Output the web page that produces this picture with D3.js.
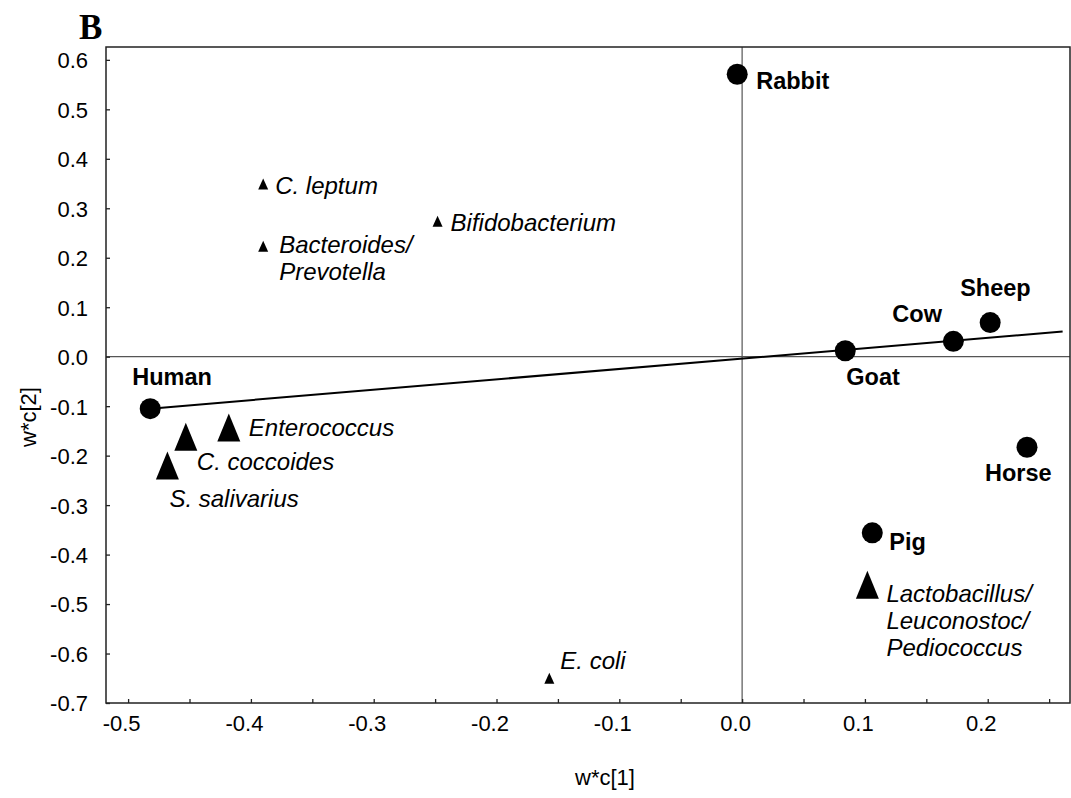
<!DOCTYPE html>
<html>
<head>
<meta charset="utf-8">
<script src="https://cdn.jsdelivr.net/npm/d3@7"></script>
<style>
  body { margin: 0; background: #fff; }
  svg { display: block; }
  text { font-family: "Liberation Sans", Arial, sans-serif; fill: #000; }
</style>
</head>
<body>
<svg width="1071" height="798"></svg>
<script>
/* -------------------------- Data -------------------------- */
// hosts (circles)
var hostNames = ['Rabbit', 'Human', 'Goat', 'Cow', 'Sheep', 'Horse', 'Pig'];
var hostX = [-0.004, -0.482, 0.084, 0.172, 0.202, 0.232, 0.106];
var hostY = [0.571, -0.105, 0.012, 0.031, 0.069, -0.183, -0.356];

// bacterial groups (triangles)
var groupNames = [
  ['Enterococcus'], ['C. coccoides'], ['S. salivarius'],
  ['Lactobacillus/', 'Leuconostoc/', 'Pediococcus'],
  ['C. leptum'], ['Bacteroides/', 'Prevotella'], ['Bifidobacterium'], ['E. coli']
];
var groupX = [-0.418, -0.453, -0.468, 0.102, -0.390, -0.390, -0.248, -0.157];
var groupY = [-0.143, -0.162, -0.220, -0.461, 0.349, 0.223, 0.274, -0.650];
var groupMajor = [true, true, true, true, false, false, false, false];

// fitted line
var lineX = [-0.482, 0.261];
var lineY = [-0.105, 0.051];

// ticks
var xTicks = [-0.5, -0.4, -0.3, -0.2, -0.1, 0.0, 0.1, 0.2];
var xMinor = [-0.45, -0.35, -0.25, -0.15, -0.05, 0.05, 0.15, 0.25];
var yTicks = [0.6, 0.5, 0.4, 0.3, 0.2, 0.1, 0.0, -0.1, -0.2, -0.3, -0.4, -0.5, -0.6, -0.7];

/* ------------------------- Layout ------------------------- */
var config = {
  left: 106, right: 1070, top: 47, bottom: 703,
  font: 22,       // ticks + axis titles
  boldFont: 23.5, // host labels
  italFont: 24    // group labels
};

// label offsets from marker centre (px)
var hostLabelOff = [[19, 15], [-18, -24], [1, 34], [-61, -19], [-30, -27], [-42, 34], [17, 17]];
var groupLabelOff = [[20, 9], [11, 33], [2, 41], [19, 17], [12, 10], [16, 7], [13, 10], [11, -9]];

// plain hyphen instead of unicode minus
var fmt = function (d) { return d3.format('.1f')(d).replace('\u2212', '-'); };

var svg = d3.select('svg');

var x = d3.scaleLinear()
  .domain([-0.518, 0.267])
  .range([config.left, config.right]);
var y = d3.scaleLinear()
  .domain([-0.7, 0.626])
  .range([config.bottom, config.top]);

// zero lines
svg.append('line')
  .attr('x1', x(0)).attr('x2', x(0))
  .attr('y1', config.top).attr('y2', config.bottom)
  .attr('stroke', '#555').attr('stroke-width', 1.2);
svg.append('line')
  .attr('x1', config.left).attr('x2', config.right)
  .attr('y1', y(0)).attr('y2', y(0))
  .attr('stroke', '#555').attr('stroke-width', 1.2);

// frame
svg.append('rect')
  .attr('x', config.left).attr('y', config.top)
  .attr('width', config.right - config.left)
  .attr('height', config.bottom - config.top)
  .attr('fill', 'none').attr('stroke', '#222').attr('stroke-width', 1.5);

// x axis
var xAxis = d3.axisBottom(x)
  .tickValues(xTicks.concat(xMinor))
  .tickSizeInner(-4).tickSizeOuter(0)
  .tickFormat(function (d) { return xTicks.indexOf(d) >= 0 ? fmt(d) : ''; });
var gx = svg.append('g')
  .attr('transform', 'translate(0,' + config.bottom + ')')
  .call(xAxis);
gx.select('.domain').remove();
gx.selectAll('line').attr('stroke', '#222').attr('stroke-width', 1.3);
gx.selectAll('text')
  .attr('y', 28).attr('dy', 0).attr('x', -7)
  .style('font-size', config.font + 'px');

// y axis
var yAxis = d3.axisLeft(y)
  .tickValues(yTicks)
  .tickSizeInner(-4).tickSizeOuter(0)
  .tickFormat(fmt);
var gy = svg.append('g')
  .attr('transform', 'translate(' + config.left + ',0)')
  .call(yAxis);
gy.select('.domain').remove();
gy.selectAll('line').attr('stroke', '#222').attr('stroke-width', 1.3);
gy.selectAll('text')
  .attr('x', -18).attr('dy', '0.36em')
  .style('font-size', config.font + 'px');

// axis titles
svg.append('text')
  .attr('x', 605).attr('y', 785)
  .attr('text-anchor', 'middle')
  .style('font-size', config.font + 'px')
  .text('w*c[1]');
svg.append('text')
  .attr('transform', 'translate(36,417) rotate(-90)')
  .attr('text-anchor', 'middle')
  .style('font-size', config.font + 'px')
  .text('w*c[2]');

// panel letter
svg.append('text')
  .attr('x', 79).attr('y', 39)
  .style('font-family', '"Liberation Serif", "Times New Roman", serif')
  .style('font-weight', 'bold')
  .style('font-size', '35px')
  .text('B');

// fitted line
svg.append('line')
  .attr('x1', x(lineX[0])).attr('y1', y(lineY[0]))
  .attr('x2', x(lineX[1])).attr('y2', y(lineY[1]))
  .attr('stroke', '#000').attr('stroke-width', 2);

// triangles
function tri(w, h) {
  return 'M0,' + (-h / 2) + 'L' + (w / 2) + ',' + (h / 2) + 'L' + (-w / 2) + ',' + (h / 2) + 'Z';
}
groupNames.forEach(function (name, i) {
  var cx = x(groupX[i]), cy = y(groupY[i]);
  svg.append('path')
    .attr('transform', 'translate(' + cx + ',' + cy + ')')
    .attr('d', groupMajor[i] ? tri(23, 28) : tri(10, 11))
    .attr('fill', '#000');
  var t = svg.append('text')
    .attr('x', cx + groupLabelOff[i][0])
    .attr('y', cy + groupLabelOff[i][1])
    .style('font-style', 'italic')
    .style('font-size', config.italFont + 'px');
  name.forEach(function (line, j) {
    t.append('tspan')
      .attr('x', cx + groupLabelOff[i][0])
      .attr('dy', j === 0 ? 0 : 27)
      .text(line);
  });
});

// circles
hostNames.forEach(function (name, i) {
  var cx = x(hostX[i]), cy = y(hostY[i]);
  svg.append('circle')
    .attr('cx', cx).attr('cy', cy).attr('r', 10.5)
    .attr('fill', '#000');
  svg.append('text')
    .attr('x', cx + hostLabelOff[i][0])
    .attr('y', cy + hostLabelOff[i][1])
    .style('font-weight', 'bold')
    .style('font-size', config.boldFont + 'px')
    .text(name);
});
</script>
</body>
</html>
